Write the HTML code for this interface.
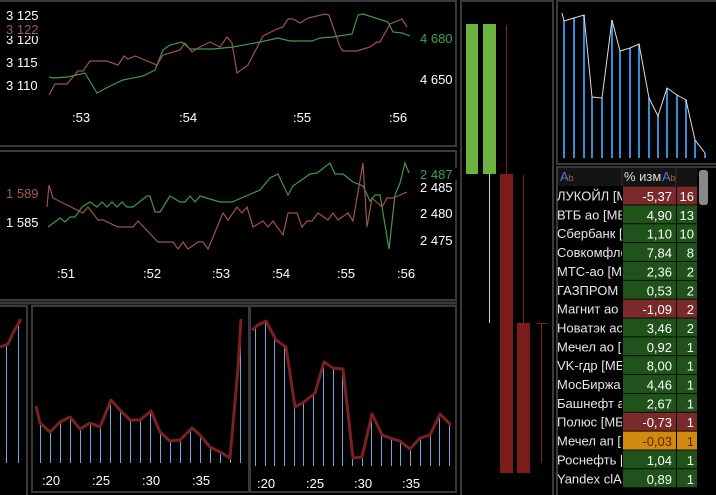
<!DOCTYPE html>
<html><head><meta charset="utf-8"><style>
html,body{margin:0;padding:0;background:#000;width:716px;height:495px;overflow:hidden}
svg{display:block}
text{font-family:"Liberation Sans","DejaVu Sans",sans-serif;font-size:13px}
</style></head><body>
<svg id="s" width="716" height="495" xmlns="http://www.w3.org/2000/svg">
<defs><clipPath id="nc"><rect x="556" y="160" width="66" height="340"/></clipPath></defs>
<rect width="716" height="495" fill="#000"/>
<g fill="none" stroke="#3a3a3a" stroke-width="2">
<rect x="-2" y="1" width="458" height="145"/>
<rect x="-2" y="151" width="458" height="149"/>
<rect x="-2" y="306" width="29" height="190"/>
<rect x="32" y="306" width="217" height="186"/>
<rect x="250" y="306" width="206" height="186"/>
<rect x="461" y="1" width="92" height="496"/>
<rect x="557" y="1" width="160" height="163"/>
<rect x="557" y="167" width="160" height="330"/>
</g>
<line x1="0" y1="303" x2="457" y2="303" stroke="#3a3a3a" stroke-width="3"/>
<!-- panel 1 -->
<g fill="#fff">
<text x="6" y="20">3 125</text><text x="6" y="44">3 120</text>
<text x="6" y="67">3 115</text><text x="6" y="90">3 110</text>
<text x="420" y="84">4 650</text>
<text x="72" y="122">:53</text><text x="179" y="122">:54</text><text x="293" y="122">:55</text><text x="389" y="122">:56</text>
</g>
<rect x="5" y="24" width="36" height="12" fill="#000"/>
<text x="6" y="34" fill="#a05a50">3 122</text>
<text x="420" y="43" fill="#3fa050">4 680</text>
<polyline fill="none" stroke="#3c9a4c" stroke-width="1.2" points="49,77 53,78 68,77 85,73 97,93 110,86 123,80 143,76 155,70 163,50 170,45 182,42 190,49 213,49 233,47 260,42 278,38 290,41 312,41 320,38 333,37 352,34 358,15 363,14 388,22 393,32 402,33 410,36"/>
<polyline fill="none" stroke="#a0524a" stroke-width="1.2" points="49,95 55,84 67,84 78,71 83,71 90,61 107,61 118,65 124,56 128,59 135,56 157,65 163,55 180,50 185,43 192,52 198,48 210,42 220,47 227,37 232,43 237,73 248,65 263,36 277,29 283,27 288,19 293,19 300,23 308,18 325,14 329,15 340,47 343,51 357,51 370,47 377,42 380,42 390,24 402,19 407,27"/>
<!-- panel 2 -->
<g fill="#fff">
<text x="6" y="227">1 585</text>
<text x="420" y="192">2 485</text><text x="420" y="218">2 480</text><text x="420" y="245">2 475</text>
<text x="57" y="278">:51</text><text x="143" y="278">:52</text><text x="212" y="278">:53</text><text x="272" y="278">:54</text><text x="337" y="278">:55</text><text x="397" y="278">:56</text>
</g>
<text x="6" y="198" fill="#a05a50">1 589</text>
<rect x="419" y="168" width="40" height="12" fill="#000"/>
<text x="420" y="179" fill="#3fa050">2 487</text>
<polyline fill="none" stroke="#3c9a4c" stroke-width="1.2" points="48,227 60,218 65,222 70,217 75,217 82,207 90,202 97,207 102,202 107,207 112,202 117,207 122,202 127,207 133,207 147,196 150,196 155,212 160,212 170,196 180,202 185,202 190,196 195,202 200,196 220,202 232,202 260,190 270,178 278,174 288,195 293,186 310,174 317,173 330,163 335,174 343,174 353,182 363,186 370,201 375,195 380,195 389,249 395,195 400,183 405,163 409,173"/>
<polyline fill="none" stroke="#a0524a" stroke-width="1.2" points="47,207 49,185 53,198 83,213 88,207 98,220 103,220 118,227 133,227 138,221 158,242 173,242 178,249 183,242 188,249 198,242 203,242 208,249 223,213 228,220 237,207 242,213 247,207 253,227 263,221 268,227 273,221 283,235 288,213 297,213 302,227 307,221 312,221 318,213 328,220 333,213 338,220 348,213 353,221 363,163 367,227 372,198 382,207 387,198 393,198 407,192"/>
<!-- bottom -->
<g id="bars" stroke="#6fa8dc" stroke-width="1"></g>
<g fill="none" stroke="#7a2020" stroke-width="3" stroke-linejoin="round">
<polyline id="la" points="0,347 8,344 13,333 21,319"/>
<polyline id="lb" points="36,406 40,423 50,432 60,422 70,417 80,429 90,423 100,427 111,400 120,410 130,420 140,420 151,411 160,432 170,441 180,440 192,428 200,435 210,447 220,452 230,458 238,368 241,319"/>
<polyline id="lc" points="252,330 258,325 266,321 276,340 286,347 295,407 304,402 315,393 324,362 333,368 343,369 353,458 362,457 372,414 382,435 390,438 400,441 410,449 420,438 430,435 440,414 451,425"/>
</g>
<g fill="#fff">
<text x="42" y="485">:20</text><text x="92" y="485">:25</text><text x="142" y="485">:30</text><text x="192" y="485">:35</text>
<text x="257" y="488">:20</text><text x="306" y="488">:25</text><text x="354" y="488">:30</text><text x="402" y="488">:35</text>
</g>
<!-- candles -->
<rect x="466" y="24" width="12" height="150" fill="#6db33f"/>
<rect x="483" y="24" width="13" height="150" fill="#6db33f"/>
<line x1="489.5" y1="174" x2="489.5" y2="323" stroke="#b8e0a8" stroke-width="1"/>
<line x1="506.5" y1="25" x2="506.5" y2="174" stroke="#7a2020" stroke-width="1"/>
<rect x="500" y="174" width="13" height="299" fill="#7a1c1c"/>
<line x1="523.5" y1="175" x2="523.5" y2="323" stroke="#7a2020" stroke-width="1"/>
<rect x="517" y="323" width="13" height="150" fill="#7a1c1c"/>
<line x1="541.5" y1="323" x2="541.5" y2="463" stroke="#7a2020" stroke-width="1"/>
<line x1="537" y1="323.5" x2="548" y2="323.5" stroke="#7a2020" stroke-width="1"/>
<!-- top right bars -->
<g id="tr" stroke="#2f8fd8" stroke-width="2"></g>
<polyline fill="none" stroke="#e8d8d8" stroke-width="1" points="562,13 564,21 574,18 584,15 592,97 602,98 612,20 620,51 630,48 639,44 649,98 658,116 667,88 677,95 686,100 695,140 705,153"/>
<!-- table -->
<rect x="558" y="168" width="139" height="18" fill="#141414"/>
<text x="560" y="181" fill="#4a7ad8" font-size="11">A<tspan fill="#c06030" font-size="9">b</tspan></text>
<text x="624" y="181" fill="#ddd" font-size="12">% изм</text>
<text x="662" y="181" fill="#4a7ad8" font-size="11">A<tspan fill="#c06030" font-size="9">b</tspan></text>
<line x1="622" y1="168" x2="622" y2="186" stroke="#333"/>
<line x1="676" y1="168" x2="676" y2="186" stroke="#333"/>
<rect x="699" y="170" width="9" height="35" rx="3" fill="#888"/>
<g id="tbl"></g>
<g id="names" clip-path="url(#nc)"></g>
</svg>
<script>
var NS="http://www.w3.org/2000/svg";
function el(t,a,p){var e=document.createElementNS(NS,t);for(var k in a)e.setAttribute(k,a[k]);p.appendChild(e);return e;}
function pts(id){return document.getElementById(id).getAttribute("points").trim().split(/\s+/).map(function(s){return s.split(",").map(Number);});}
function yAt(p,x){for(var i=0;i<p.length-1;i++){if(x>=p[i][0]&&x<=p[i+1][0]){var t=(x-p[i][0])/((p[i+1][0]-p[i][0])||1);return p[i][1]+t*(p[i+1][1]-p[i][1]);}}return p[p.length-1][1];}
var g=document.getElementById("bars");
[6,18].forEach(function(x){el("line",{x1:x+.5,x2:x+.5,y1:yAt(pts("la"),x),y2:463},g);});
for(var x=40;x<=240;x+=10){el("line",{x1:x+.5,x2:x+.5,y1:yAt(pts("lb"),x),y2:463},g);}
for(var x=255;x<=450;x+=9.7){el("line",{x1:Math.round(x)+.5,x2:Math.round(x)+.5,y1:yAt(pts("lc"),x),y2:466},g);}
var tr=document.getElementById("tr");
[[564,21],[574,18],[584,15],[592,97],[602,98],[612,20],[620,51],[630,48],[639,44],[649,98],[658,116],[667,88],[677,95],[686,100],[695,140],[705,153]].forEach(function(b){el("line",{x1:b[0],x2:b[0],y1:b[1],y2:158},tr);});
var rows=[["ЛУКОЙЛ [МБ","-5,37","16","r"],["ВТБ ао [МБ ФР]","4,90","13","g"],["Сбербанк [МБ","1,10","10","g"],["Совкомфлот","7,84","8","g"],["МТС-ао [МБ","2,36","2","g"],["ГАЗПРОМ ао","0,53","2","g"],["Магнит ао [МБ","-1,09","2","r"],["Новатэк ао [МБ","3,46","2","g"],["Мечел ао [МБ","0,92","1","g"],["VK-гдр [МБ ФР","8,00","1","g"],["МосБиржа [МБ","4,46","1","g"],["Башнефт ап","2,67","1","g"],["Полюс [МБ ФР","-0,73","1","r"],["Мечел ап [МБ","-0,03","1","o"],["Роснефть [МБ","1,04","1","g"],["Yandex clA [МБ","0,89","1","g"]];
var t=document.getElementById("tbl"),nm=document.getElementById("names"),col={r:"#7a2a2a",g:"#1f531a",o:"#d08a10"};
rows.forEach(function(r,i){var y=186.5+i*18.85;
el("rect",{x:623,y:y,width:53,height:18,fill:col[r[3]]},t);
el("rect",{x:677,y:y,width:20,height:18,fill:col[r[3]]},t);
var a=el("text",{x:557,y:y+14,fill:"#e6e6e6","font-size":"12.5"},nm);a.textContent=r[0];
var b=el("text",{x:672,y:y+14.5,fill:r[3]=="o"?"#5a2a00":"#fff","text-anchor":"end","font-size":"14"},t);b.textContent=r[1];
var c=el("text",{x:694,y:y+14.5,fill:r[3]=="o"?"#5a2a00":"#fff","text-anchor":"end","font-size":"14"},t);c.textContent=r[2];});
</script>
</body></html>
